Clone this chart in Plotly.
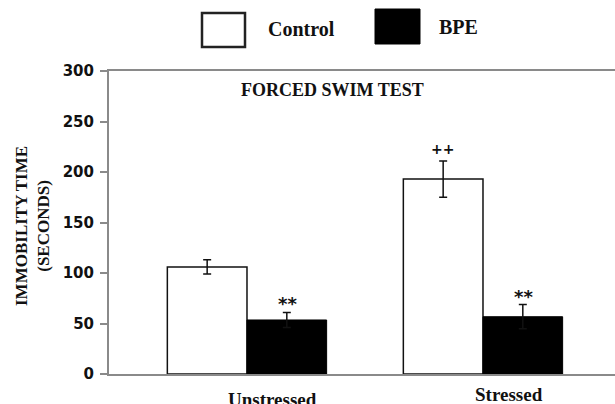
import plotly.graph_objects as go

# ---- data ----
categories = ["Unstressed", "Stressed"]
control_vals = [106, 193]
control_err = [7, 18]
bpe_vals = [53.5, 56.7]
bpe_err = [7.5, 12]
control_marks = ["", "++"]
bpe_marks = ["**", "**"]
y_ticks = [0, 50, 100, 150, 200, 250, 300]

x_pos = list(range(len(categories)))

SERIF = "Liberation Serif, Times New Roman, serif"
SANS = "DejaVu Sans, sans-serif"
GRAY = "#8a8a8a"

fig = go.Figure()
fig.add_trace(go.Bar(
    x=x_pos, y=control_vals, name="Control",
    marker=dict(color="white", line=dict(color="#111", width=1.5)),
    error_y=dict(type="data", array=control_err, color="#111", thickness=1.5, width=4),
))
fig.add_trace(go.Bar(
    x=x_pos, y=bpe_vals, name="BPE",
    marker=dict(color="black", line=dict(color="black", width=1)),
    error_y=dict(type="data", array=bpe_err, color="#111", thickness=1.5, width=4),
))

L, T, W, H = 109, 71, 506, 303
def px(xp):
    return (xp - L) / W
def py(yp):
    return (T + H - yp) / H

annotations = []
# significance marks
n = len(categories)
for i in range(n):
    if control_marks[i]:
        annotations.append(dict(x=x_pos[i] - 0.17, y=control_vals[i] + control_err[i],
                                xref="x", yref="y", text=control_marks[i], showarrow=False,
                                yanchor="bottom", yshift=2,
                                font=dict(family=SANS, size=14, color="#111", weight="bold")))
    if bpe_marks[i]:
        annotations.append(dict(x=x_pos[i] + 0.17, y=bpe_vals[i] + bpe_err[i],
                                xref="x", yref="y", text=bpe_marks[i], showarrow=False,
                                yanchor="bottom", yshift=-4,
                                font=dict(family=SANS, size=18, color="#111", weight="bold")))
# category labels (offset to the right like the original)
cat_shift = [-13, -8]
for i, c in enumerate(categories):
    annotations.append(dict(x=x_pos[i], y=0, xref="x", yref="paper", text=f"<b>{c}</b>",
                            showarrow=False, xshift=26, yanchor="top", yshift=cat_shift[i],
                            font=dict(family=SERIF, size=19, color="#111")))
# title inside plot
annotations.append(dict(x=px(332), y=py(90), xref="paper", yref="paper",
                        text="<b>FORCED SWIM TEST</b>", showarrow=False,
                        xanchor="center", yanchor="middle",
                        font=dict(family=SERIF, size=18, color="#111")))
# y axis title
annotations.append(dict(x=px(32), y=py(226), xref="paper", yref="paper",
                        text="<b>IMMOBILITY TIME<br>(SECONDS)</b>", showarrow=False,
                        textangle=-90, xanchor="center", yanchor="middle",
                        font=dict(family=SERIF, size=17, color="#111")))
# legend texts
annotations.append(dict(x=px(266), y=py(29), xref="paper", yref="paper", text="<b>Control</b>",
                        showarrow=False, xanchor="left", yanchor="middle",
                        font=dict(family=SERIF, size=20, color="#111")))
annotations.append(dict(x=px(437), y=py(27), xref="paper", yref="paper", text="<b>BPE</b>",
                        showarrow=False, xanchor="left", yanchor="middle",
                        font=dict(family=SERIF, size=20, color="#111")))

shapes = [
    dict(type="rect", xref="paper", yref="paper", x0=px(202), x1=px(245), y0=py(47), y1=py(13),
         line=dict(color="#222", width=2.5), fillcolor="white"),
    dict(type="rect", xref="paper", yref="paper", x0=px(375), x1=px(420), y0=py(44), y1=py(9),
         line=dict(color="black", width=1), fillcolor="black"),
]

fig.update_layout(
    width=615, height=404,
    margin=dict(l=L, r=615 - L - W, t=T, b=404 - T - H, pad=0),
    paper_bgcolor="white", plot_bgcolor="white",
    barmode="group", bargap=0.325, bargroupgap=0,
    showlegend=False,
    annotations=annotations, shapes=shapes,
    xaxis=dict(range=[-0.5847, -0.5847 + W / 236], showticklabels=False, ticks="",
               showgrid=False, zeroline=False, showline=True, linecolor=GRAY, linewidth=2,
               mirror=True, fixedrange=True),
    yaxis=dict(range=[0, 300], tickvals=y_ticks, ticks="outside", ticklen=7, tickwidth=2,
               tickcolor=GRAY, showgrid=False, zeroline=False, showline=True, linecolor=GRAY,
               linewidth=2, tickfont=dict(family=SANS, size=15, color="#111", weight="bold"),
               ticklabelstandoff=3, fixedrange=True),
)

fig.write_html("out.html")
